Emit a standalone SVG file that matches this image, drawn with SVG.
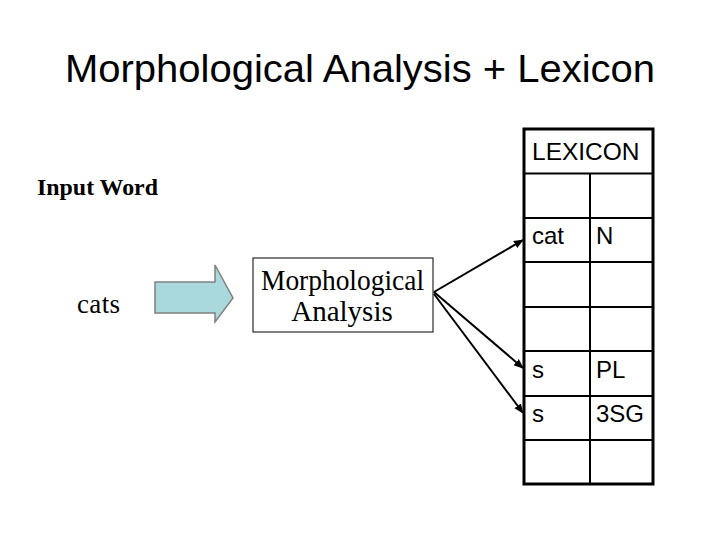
<svg xmlns="http://www.w3.org/2000/svg" width="720" height="540" viewBox="0 0 720 540">
<style>
.sans{font-family:"Liberation Sans",Arial,sans-serif;fill:#000}
.serif{font-family:"Liberation Serif","Times New Roman",serif;fill:#000}
.cell{font-size:24px}
.grid{stroke:#000;stroke-width:2;fill:none}
.conn{stroke:#000;stroke-width:2;fill:none;marker-end:url(#ah)}
</style>
<defs>
<marker id="ah" viewBox="0 0 10 10" refX="9" refY="5" markerWidth="5" markerHeight="5" orient="auto" markerUnits="strokeWidth">
<path d="M0,1 L10,5 L0,9 Z" fill="#000"/>
</marker>
</defs>
<rect width="720" height="540" fill="#fff"/>
<text id="title" class="sans" x="65" y="82" font-size="39" textLength="590" lengthAdjust="spacingAndGlyphs">Morphological Analysis + Lexicon</text>
<g id="input-label"><text class="serif" x="37" y="195" font-size="23" font-weight="bold" textLength="121" lengthAdjust="spacingAndGlyphs">Input Word</text></g>
<g id="cats"><text class="serif" x="77" y="313" font-size="27" textLength="43">cats</text></g>
<g id="block-arrow"><path d="M155,282 L215,282 L215,265 L233,298 L215,322 L215,313 L155,313 Z" fill="#A9D9DC" stroke="#808080" stroke-width="1.5"/></g>
<g id="morph">
<rect x="253" y="258" width="180" height="74" fill="#fff" stroke="#000" stroke-width="1"/>
<text class="serif" x="261" y="290" font-size="29" textLength="163" lengthAdjust="spacingAndGlyphs">Morphological</text>
<text class="serif" x="342" y="321" font-size="29" text-anchor="middle">Analysis</text>
</g>
<g id="lexicon">
<rect x="524" y="129" width="129" height="355" fill="#fff" stroke="#000" stroke-width="3"/>
<path class="grid" d="M524,173.5H653M524,218H653M524,262H653M524,307H653M524,351H653M524,396H653M524,440H653M590,173.5V484"/>
<text class="sans" x="532" y="160" font-size="24.5">LEXICON</text>
<text class="sans cell" x="532" y="244">cat</text>
<text class="sans cell" x="596" y="244">N</text>
<text class="sans cell" x="532" y="378">s</text>
<text class="sans cell" x="596" y="378">PL</text>
<text class="sans cell" x="532" y="422">s</text>
<text class="sans cell" x="596" y="422">3SG</text>
</g>
<g id="connectors">
<line class="conn" x1="434" y1="292" x2="523" y2="240"/>
<line class="conn" x1="434" y1="292" x2="523" y2="368"/>
<line class="conn" x1="434" y1="294" x2="523" y2="413"/>
</g>
</svg>
